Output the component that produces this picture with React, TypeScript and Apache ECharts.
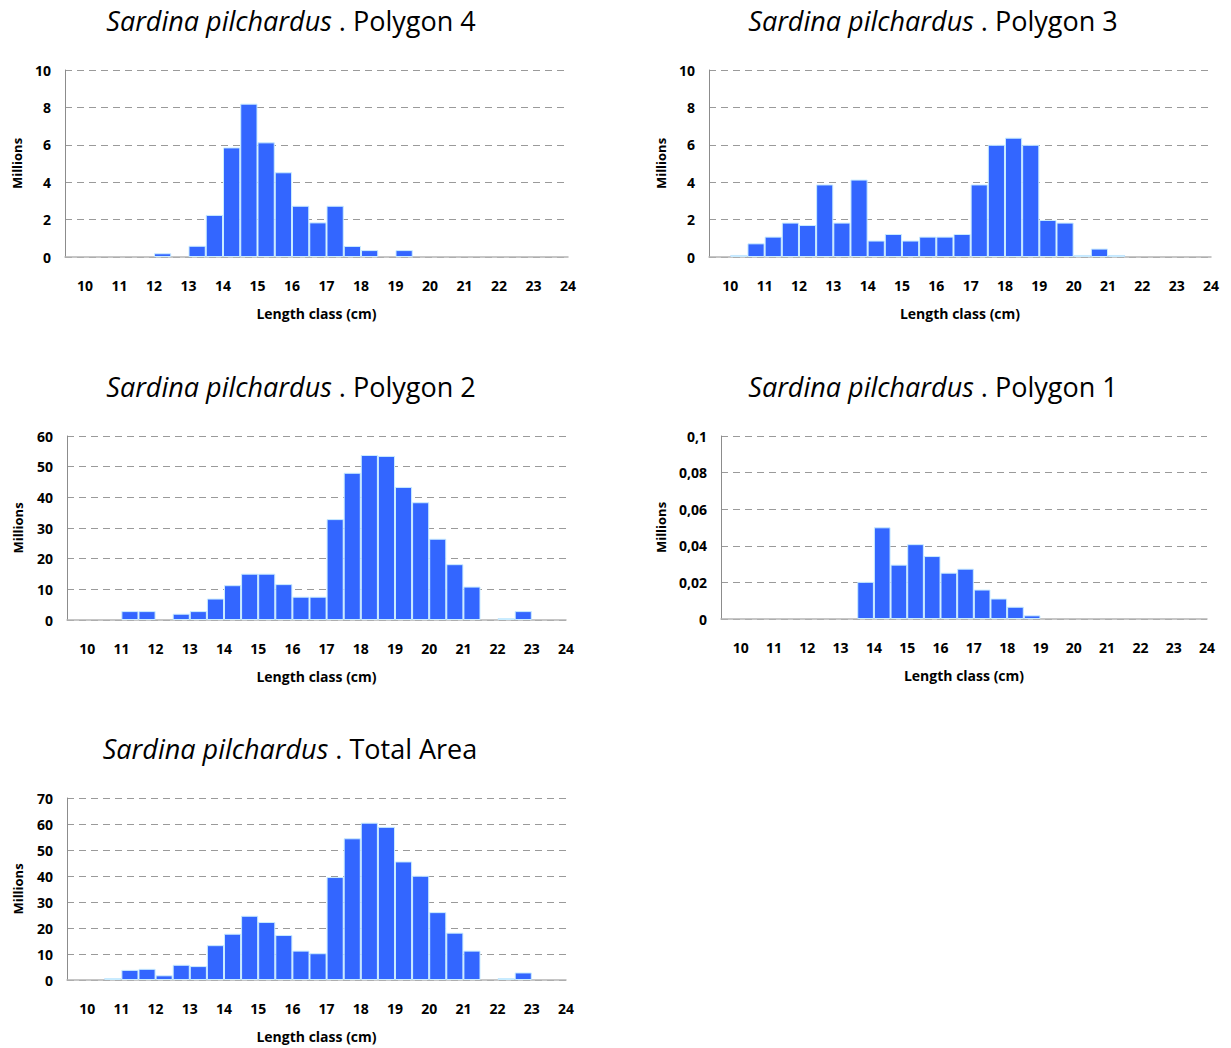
import React, { useEffect, useRef } from 'react';
import * as echarts from 'echarts';

// Length classes (cm), half-cm bins
const classes = [10, 10.5, 11, 11.5, 12, 12.5, 13, 13.5, 14, 14.5, 15, 15.5, 16, 16.5, 17, 17.5, 18, 18.5, 19, 19.5, 20, 20.5, 21, 21.5, 22, 22.5, 23, 23.5];
const xTickLabels = [10, 11, 12, 13, 14, 15, 16, 17, 18, 19, 20, 21, 22, 23, 24];

// Millions per class
const polygon4 = [0, 0, 0, 0, 0.2, 0, 0.6, 2.25, 5.86, 8.2, 6.13, 4.53, 2.74, 1.85, 2.74, 0.59, 0.37, 0, 0.37, 0, 0, 0, 0, 0, 0, 0, 0, 0];
const polygon3 = [0.11, 0.73, 1.09, 1.84, 1.71, 3.88, 1.84, 4.14, 0.88, 1.23, 0.88, 1.09, 1.09, 1.23, 3.88, 6.0, 6.38, 6.0, 1.98, 1.84, 0.11, 0.45, 0.11, 0, 0, 0, 0, 0];
const polygon2 = [0, 0, 2.9, 2.9, 0, 2.05, 2.9, 7.0, 11.35, 15.1, 15.1, 11.7, 7.6, 7.6, 32.9, 48.0, 53.8, 53.5, 43.4, 38.4, 26.5, 18.2, 10.9, 0, 0.65, 2.9, 0, 0];
const polygon1 = [0, 0, 0, 0, 0, 0, 0, 0.0203, 0.0501, 0.0297, 0.0409, 0.0344, 0.0253, 0.0275, 0.0161, 0.0112, 0.0067, 0.002, 0, 0, 0, 0, 0, 0, 0, 0, 0, 0];
const totalArea = [0, 0.76, 3.9, 4.3, 1.8, 5.85, 5.35, 13.4, 17.8, 24.7, 22.3, 17.3, 11.3, 10.3, 39.6, 54.5, 60.5, 58.9, 45.6, 40.1, 26.1, 18.2, 11.3, 0, 0.76, 2.9, 0, 0];

const panelNames = ['Polygon 4', 'Polygon 3', 'Polygon 2', 'Polygon 1', 'Total Area'];
const panelSeries = [polygon4, polygon3, polygon2, polygon1, totalArea];
const yMax = [10, 10, 60, 0.1, 70];
const yStep = [2, 2, 10, 0.02, 10];

const FONT = "'Open Sans', sans-serif";

// layout (page px)
const layout = [
  { left: 65, top: 70, width: 503, height: 187, xMin: 9.42, tx: 291, ty: 20, yGap: 42 },
  { left: 709, top: 70, width: 502, height: 187, xMin: 9.38, tx: 933, ty: 20, yGap: 42 },
  { left: 67, top: 436, width: 499, height: 184, xMin: 9.41, tx: 291, ty: 386, yGap: 43 },
  { left: 721, top: 436, width: 486, height: 183, xMin: 9.41, tx: 933, ty: 386, yGap: 54 },
  { left: 67, top: 798, width: 499, height: 182, xMin: 9.41, tx: 290, ty: 748, yGap: 43 },
];

function fmtY(v: number) {
  if (v === 0) return '0';
  return String(parseFloat(v.toFixed(3))).replace('.', ',');
}

export default function App() {
  const ref = useRef<HTMLDivElement>(null);
  useEffect(() => {
    if (!ref.current) return;
    const chart = echarts.init(ref.current, null, { renderer: 'svg' });
    const grids: any[] = [];
    const xAxes: any[] = [];
    const yAxes: any[] = [];
    const series: any[] = [];
    const graphics: any[] = [];
    layout.forEach((L, k) => {
      grids.push({ left: L.left, top: L.top, width: L.width, height: L.height, containLabel: false });
      xAxes.push({
        type: 'value',
        gridIndex: k,
        min: L.xMin,
        max: 24,
        name: 'Length class (cm)',
        nameLocation: 'middle',
        nameGap: 49,
        nameTextStyle: { fontFamily: FONT, fontWeight: 'bold', fontSize: 14, color: '#000' },
        axisLine: { show: true, lineStyle: { color: '#b4b4b4', width: 1.5 } },
        axisTick: { show: false },
        splitLine: { show: false },
        axisLabel: {
          customValues: xTickLabels,
          margin: 21,
          fontFamily: FONT,
          fontWeight: 'bold',
          fontSize: 14,
          color: '#000',
          showMinLabel: true,
          showMaxLabel: true,
        },
      });
      yAxes.push({
        type: 'value',
        gridIndex: k,
        min: 0,
        max: yMax[k],
        interval: yStep[k],
        name: 'Millions',
        nameLocation: 'middle',
        nameGap: L.yGap,
        nameTextStyle: { fontFamily: FONT, fontWeight: 'bold', fontSize: 13, color: '#000' },
        axisLine: { show: true, lineStyle: { color: '#8c8c8c', width: 1 } },
        axisTick: { show: false },
        axisLabel: {
          margin: 14,
          fontFamily: FONT,
          fontWeight: 'bold',
          fontSize: 14,
          color: '#000',
          formatter: (v: number) => fmtY(v),
        },
        splitLine: { show: true, lineStyle: { color: '#9a9a9a', type: [7, 5], width: 1 } },
      });
      const vals = panelSeries[k];
      series.push({
        type: 'bar',
        xAxisIndex: k,
        yAxisIndex: k,
        barWidth: '100%',
        itemStyle: { color: '#3366ff', borderColor: '#c9ecff', borderWidth: 1 },
        data: classes.map((c, i) => [c + 0.25, vals[i] === 0 ? '-' : vals[i]]),
      });
      graphics.push({
        type: 'text',
        x: L.tx,
        y: L.ty,
        style: {
          text: '{i|Sardina pilchardus}{n| . ' + panelNames[k] + '}',
          align: 'center',
          verticalAlign: 'middle',
          fontFamily: FONT,
          fontSize: 27,
          fill: '#000',
          rich: {
            i: { fontFamily: FONT, fontSize: 27, fontStyle: 'italic', fill: '#000' },
            n: { fontFamily: FONT, fontSize: 27, fontStyle: 'normal', fill: '#000' },
          },
        },
      });
    });
    chart.setOption({
      animation: false,
      backgroundColor: '#ffffff',
      grid: grids,
      xAxis: xAxes,
      yAxis: yAxes,
      series,
      graphic: graphics,
    });
    return () => chart.dispose();
  }, []);
  return (
    <div
      ref={ref}
      style={{ position: 'fixed', left: 0, top: 0, width: 1231, height: 1048, background: '#fff' }}
    />
  );
}
